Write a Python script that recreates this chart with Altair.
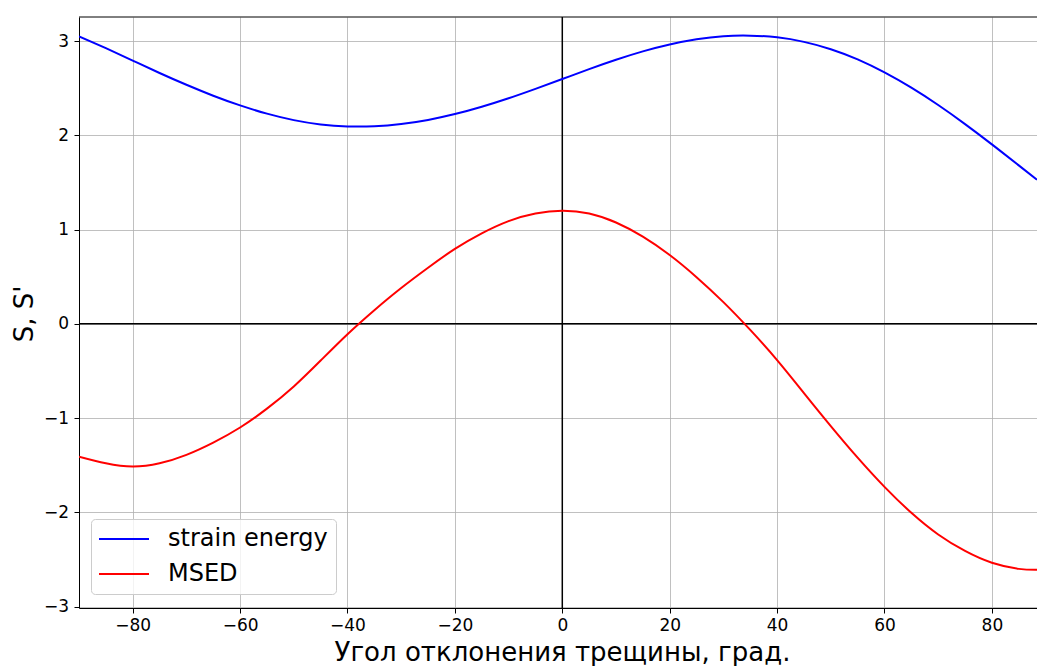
import altair as alt
import pandas as pd

# ---- data ----
angles = [-90, -85, -80, -75, -70, -65, -60, -55, -50, -45, -40, -35, -30, -25, -20, -15, -10, -5,
          0, 5, 10, 15, 20, 25, 30, 35, 40, 45, 50, 55, 60, 65, 70, 75, 80, 85, 88.4]
strain_energy = [3.05, 2.924, 2.793, 2.661, 2.536, 2.420, 2.317, 2.230, 2.161, 2.115, 2.094, 2.096,
                 2.120, 2.163, 2.225, 2.303, 2.393, 2.493, 2.597, 2.702, 2.801, 2.890, 2.963, 3.018,
                 3.051, 3.057, 3.039, 2.991, 2.913, 2.805, 2.667, 2.505, 2.321, 2.119, 1.904, 1.681, 1.528]
msed = [-1.41, -1.48, -1.515, -1.48, -1.39, -1.26, -1.10, -0.90, -0.665, -0.39, -0.11, 0.145,
        0.38, 0.595, 0.795, 0.96, 1.09, 1.17, 1.20, 1.17, 1.075, 0.925, 0.73, 0.495, 0.23, -0.065,
        -0.385, -0.735, -1.085, -1.42, -1.73, -2.005, -2.235, -2.41, -2.535, -2.60, -2.61]
series_names = ["strain energy", "MSED"]
series_colors = ["#0000ff", "#ff0000"]
x_ticks = [-80, -60, -40, -20, 0, 20, 40, 60, 80]
y_ticks = [-3, -2, -1, 0, 1, 2, 3]
zero_x = [0]
zero_y = [0]
x_title = "Угол отклонения трещины, град."
y_title = "S, S'"

rows = []
for name, vals in zip(series_names, [strain_energy, msed]):
    for a, v in zip(angles, vals):
        rows.append({"angle": a, "value": v, "series": name})
df = pd.DataFrame(rows)

W, H = 958, 591
FONT = "DejaVu Sans"

x_scale = alt.Scale(domain=[-90, 88.4], nice=False, zero=False)
y_scale = alt.Scale(domain=[-3.015, 3.255], nice=False, zero=False)

x_axis = alt.Axis(values=x_ticks, title=x_title, labelPadding=4, format="d",
                  titleX=483, titleY=52.7, titleBaseline="alphabetic", titleAlign="center")
y_axis = alt.Axis(values=y_ticks, title=y_title, labelPadding=5.5, format="d",
                  titleX=-47, titleY=296.5, titleAngle=270, titleAlign="center",
                  titleBaseline="alphabetic")


def X(field):
    return alt.X(field, type="quantitative", scale=x_scale, axis=x_axis)


def Y(field):
    return alt.Y(field, type="quantitative", scale=y_scale, axis=y_axis)


vrule = alt.Chart(pd.DataFrame({"angle": zero_x})).mark_rule(color="black", strokeWidth=1.5).encode(
    x=X("angle")
)
hrule = alt.Chart(pd.DataFrame({"value": zero_y})).mark_rule(color="black", strokeWidth=1.5).encode(
    y=Y("value")
)

lines = alt.Chart(df).mark_line(strokeWidth=2, interpolate="natural", clip=True).encode(
    x=X("angle"),
    y=Y("value"),
    color=alt.Color(
        "series:N",
        scale=alt.Scale(domain=series_names, range=series_colors),
        legend=alt.Legend(
            title=None, orient="none", legendX=12, legendY=502,
            symbolType="M-2.5,0H2.5", symbolSize=400, symbolStrokeWidth=2,
            symbolOffset=13, labelOffset=32, labelFontSize=24, labelFont=FONT,
            labelColor="black", labelLimit=400, padding=8, rowPadding=11,
            fillColor="rgba(255,255,255,0.8)", strokeColor="#cccccc", cornerRadius=4,
        ),
    ),
)

top = alt.Chart(pd.DataFrame({"k": [0]})).mark_rule(color="black", strokeWidth=1).encode(
    x=alt.value(0), x2=alt.value(W), y=alt.value(0)
)

chart = (
    alt.layer(vrule, hrule, lines, top)
    .properties(
        width=W, height=H,
        autosize=alt.AutoSizeParams(type="none"),
        padding={"left": 79, "top": 17, "right": 0, "bottom": 58},
        background="white",
    )
    .configure_view(stroke=None)
    .configure_axis(
        labelFont=FONT, labelFontSize=17, labelColor="black",
        titleFont=FONT, titleFontSize=26, titleFontWeight="normal", titleColor="black",
        tickColor="black", tickSize=5, tickWidth=1,
        domainColor="black", domainWidth=1,
        gridColor="#b0b0b0", gridWidth=0.8,
    )
)

chart.save("out.html", embed_options={"renderer": "svg", "actions": False})
